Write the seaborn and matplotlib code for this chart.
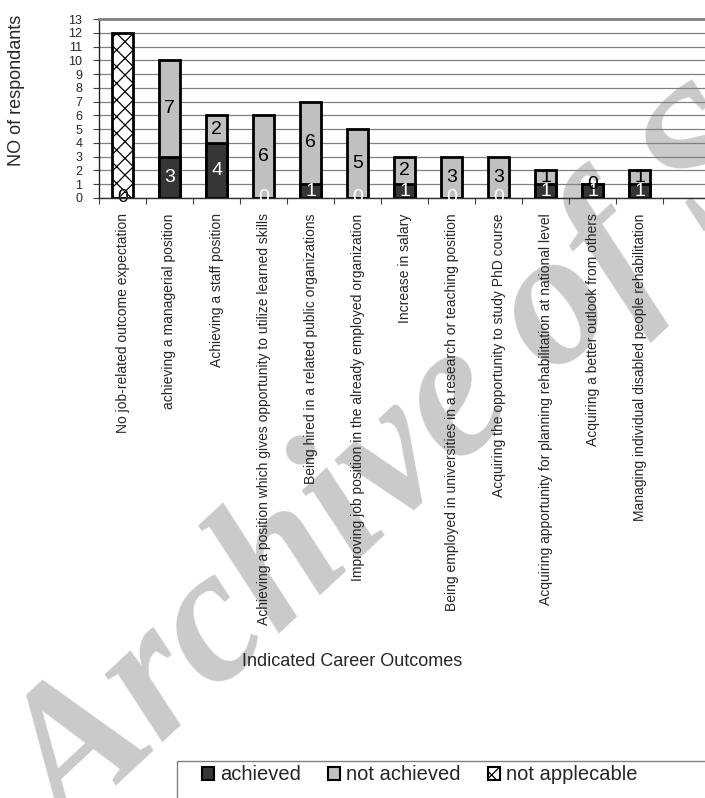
import matplotlib
matplotlib.use("Agg")
import matplotlib.pyplot as plt
import seaborn as sns
import pandas as pd
from matplotlib.patches import Patch, Rectangle
from matplotlib.ticker import FixedLocator

categories = [
    "No job-related outcome expectation",
    "achieving a managerial position",
    "Achieving a staff position",
    "Achieving a position which gives opportunity to utilize learned skills",
    "Being hired in a related public organizations",
    "Improving job position in the already employed organization",
    "Increase in salary",
    "Being employed in universities in a research or teaching position",
    "Acquiring the opportunity to study PhD course",
    "Acquiring apportunity for planning rehabilitation at national level",
    "Acquiring a better outlook from others",
    "Managing individual disabled people rehabilitation",
]
achieved = [0, 3, 4, 0, 1, 0, 1, 0, 0, 1, 1, 1]
not_achieved = [0, 7, 2, 6, 6, 5, 2, 3, 3, 1, 0, 1]
not_applicable = [12, 0, 0, 0, 0, 0, 0, 0, 0, 0, 0, 0]
series_names = ["achieved", "not achieved", "not applecable"]
yticks = list(range(0, 14))

sns.set_style("white")
plt.rcParams["font.family"] = ["Liberation Sans", "DejaVu Sans"]
plt.rcParams["hatch.linewidth"] = 0.9
plt.rcParams["hatch.color"] = "#222222"

df = pd.DataFrame({
    "category": categories,
    "achieved": achieved,
    "not_achieved": not_achieved,
    "not_applicable": not_applicable,
})
df["total"] = df["achieved"] + df["not_achieved"]

W, H = 705, 798
fig = plt.figure(figsize=(W / 100, H / 100), dpi=100)
fig.patch.set_facecolor("white")

# watermark
fig.text(70 / W, 1 - 838 / H, "Archive of SID", fontsize=138, family="Liberation Serif",
         style="italic", weight="bold", color="#cacaca", rotation=43,
         rotation_mode="anchor", ha="left", va="baseline", zorder=-5)

ax = fig.add_axes([99 / W, 1 - 198 / H, 611 / W, 179 / H])
ax.set_facecolor("none")
ax.set_axisbelow(True)

bw = 0.45
edge_kw = dict(edgecolor="black", linewidth=2.0)
sns.barplot(data=df, x="category", y="not_applicable", order=categories, color="white",
            hatch="xx", width=bw, ax=ax, saturation=1, **edge_kw)
sns.barplot(data=df, x="category", y="total", order=categories, color="#c0c0c0",
            width=bw, ax=ax, saturation=1, **edge_kw)
sns.barplot(data=df, x="category", y="achieved", order=categories, color="#363636",
            width=bw, ax=ax, saturation=1, **edge_kw)

for i, (a, n) in enumerate(zip(achieved, not_achieved)):
    ax.text(i, a / 2, str(a), ha="center", va="center", fontsize=14, color="white",
            clip_on=False, zorder=5)
    ax.text(i, a + n / 2, str(n), ha="center", va="center", fontsize=14, color="black",
            clip_on=False, zorder=5)

ax.set_xlim(-0.5, 12.5)
ax.set_ylim(0, 13)
ax.set_yticks(yticks)
ax.set_yticklabels([str(t) for t in yticks], fontsize=9)
ax.yaxis.grid(True, color="#808080", linewidth=0.9)
ax.xaxis.grid(False)

ax.set_xticks(range(len(categories)))
ax.set_xticklabels(categories, rotation=90, fontsize=10, va="top", ha="center")
ax.xaxis.set_minor_locator(FixedLocator([i - 0.5 for i in range(14)]))
ax.tick_params(axis="x", which="major", length=0, pad=11)
ax.tick_params(axis="x", which="minor", length=4, width=0.8, color="#404040", direction="out", bottom=True)
ax.tick_params(axis="y", which="major", length=4.5, width=0.8, color="#404040", pad=7.5, left=True)

for s in ["top", "left", "bottom", "right"]:
    ax.spines[s].set_visible(True)
ax.spines["top"].set_color("#808080")
ax.spines["top"].set_linewidth(2.0)
ax.spines["left"].set_color("#202020")
ax.spines["left"].set_linewidth(1.0)
ax.spines["bottom"].set_color("#303030")
ax.spines["bottom"].set_linewidth(1.0)
ax.spines["right"].set_visible(False)

ax.set_ylabel("")
ax.set_xlabel("")
fig.text(17 / W, 1 - 90 / H, "NO of respondants", rotation=90, fontsize=13,
         ha="center", va="center")
fig.text(352 / W, 1 - 661 / H, "Indicated Career Outcomes", fontsize=13,
         ha="center", va="center")

# legend
fig.patches.append(Rectangle((177 / W, 1 - 805 / H), 560 / W, 44 / H, transform=fig.transFigure,
                             facecolor="white", edgecolor="#808080", linewidth=1.0, zorder=1))
handles = [
    Patch(facecolor="#363636", edgecolor="black", linewidth=1.5),
    Patch(facecolor="#c0c0c0", edgecolor="black", linewidth=1.5),
    Patch(facecolor="white", edgecolor="black", linewidth=1.5, hatch="xx"),
]
leg = fig.legend(handles, series_names, loc="center left", bbox_to_anchor=(202 / W, 1 - 775 / H),
                 ncol=3, frameon=False, fontsize=14.5, handlelength=0.6, handleheight=0.6,
                 handletextpad=0.3, columnspacing=1.35, borderpad=0, borderaxespad=0)
leg.set_zorder(2)

fig.savefig("out.png", dpi=100, facecolor="white")
